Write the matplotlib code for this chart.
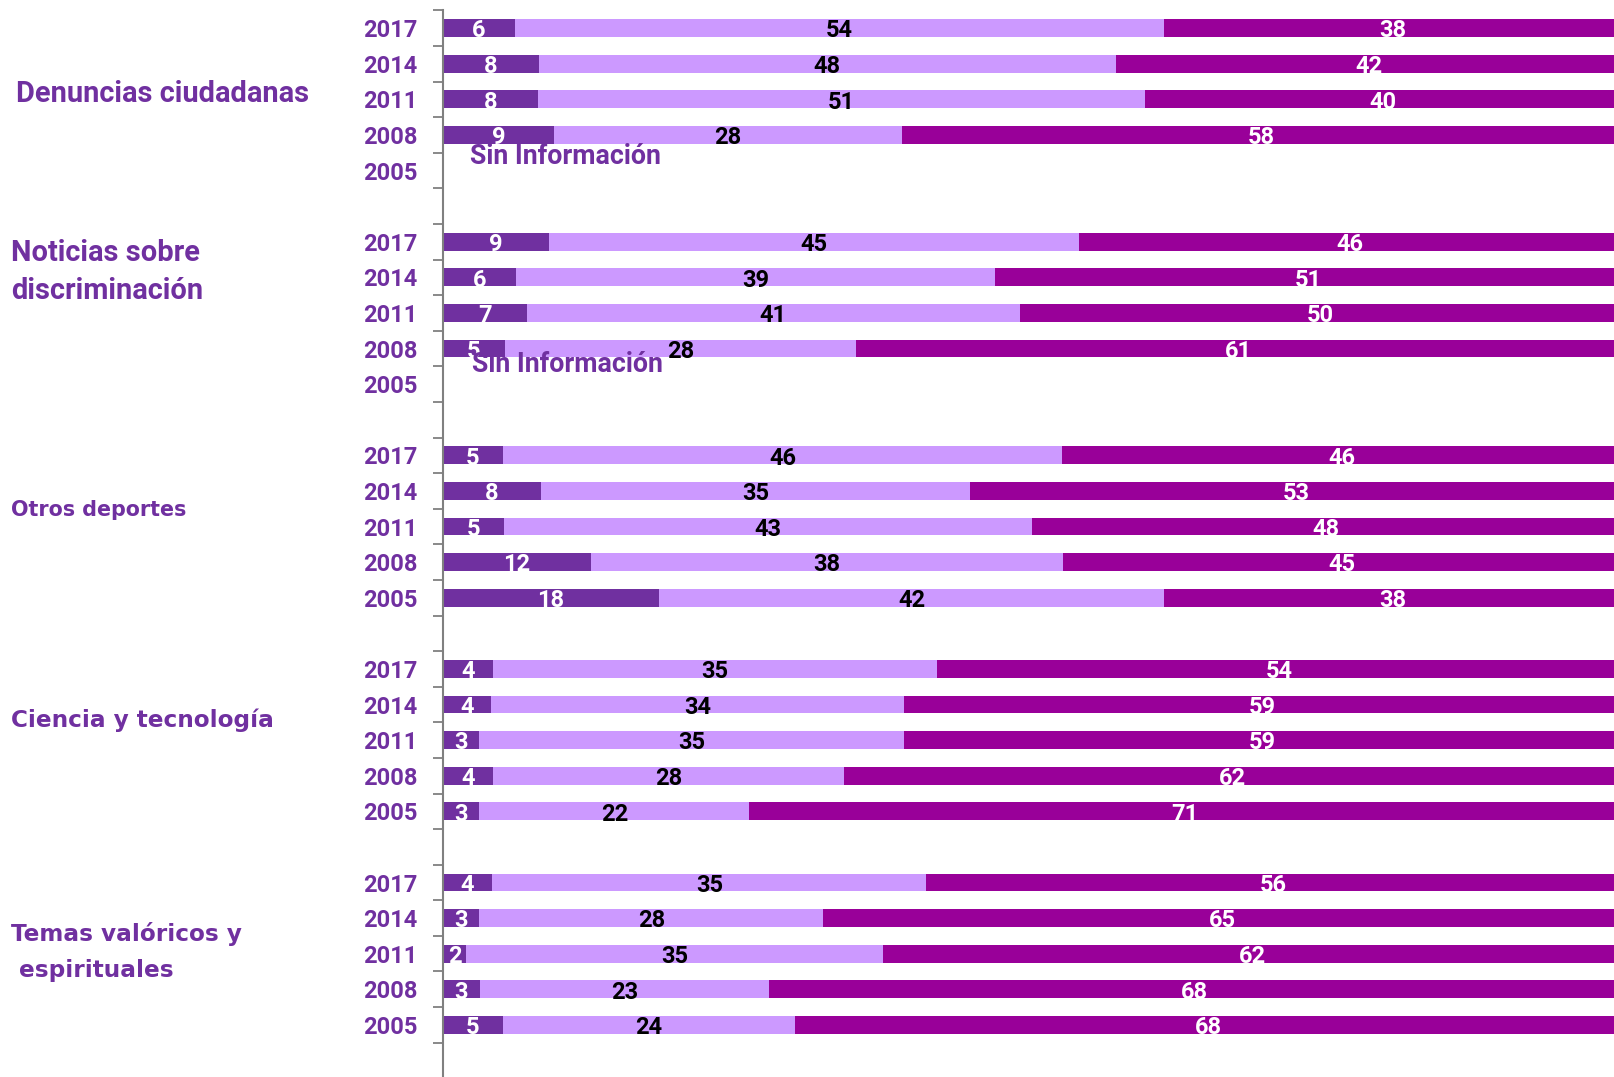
import numpy as np
import matplotlib.pyplot as plt

# categories
groups = ['Denuncias ciudadanas', 'Noticias sobre\ndiscriminación', 'Otros deportes',
          'Ciencia y tecnología', 'Temas valóricos y\n espirituales']
years = ['2017', '2014', '2011', '2008', '2005']

# values per group (2017, 2014, 2011, 2008, 2005); nan = sin información
dark = [6, 8, 8, 9, np.nan,
        9, 6, 7, 5, np.nan,
        5, 8, 5, 12, 18,
        4, 4, 3, 4, 3,
        4, 3, 2, 3, 5]
light = [54, 48, 51, 28, np.nan,
         45, 39, 41, 28, np.nan,
         46, 35, 43, 38, 42,
         35, 34, 35, 28, 22,
         35, 28, 35, 23, 24]
mag = [38, 42, 40, 58, np.nan,
       46, 51, 50, 61, np.nan,
       46, 53, 48, 45, 38,
       54, 59, 59, 62, 71,
       56, 65, 62, 68, 68]

c_dark = '#7030A0'
c_light = '#CC99FF'
c_mag = '#990099'
txt_purple = '#7030A0'
FONT = 'Roboto'

W, H = 1614, 1077
fig = plt.figure(figsize=(W / 100, H / 100), dpi=100)
ax = fig.add_axes([442.6 / W, -0.0012, 1 - 442.6 / W, 0.9916])

rows = []
for g in range(len(groups)):
    for j in range(len(years)):
        rows.append(g * 6 + j)
rows = np.array(rows)

# 100% stacked: each row scaled to its own total
d = np.array(dark, dtype=float)
l_ = np.array(light, dtype=float)
m = np.array(mag, dtype=float)
total = d + l_ + m

series = [(d, c_dark, 'white'),
          (l_, c_light, 'black'),
          (m, c_mag, 'white')]
left = np.zeros(len(rows))
for v, col, tcol in series:
    ok = ~np.isnan(v)
    pct = v / total * 100
    ax.barh(rows[ok], pct[ok], left=left[ok], height=0.5, color=col, linewidth=0)
    for y, lft, w, raw in zip(rows[ok], left[ok], pct[ok], v[ok]):
        ax.text(lft + w / 2, y + 0.08, f'{int(raw)}', ha='center', va='center',
                color=tcol, fontsize=17, fontweight='bold', family=FONT)
    left = left + np.nan_to_num(pct)

ax.set_xlim(0, 99.4)
ax.set_ylim(29.5, -0.5)

ax.set_yticks(rows)
ax.set_yticklabels(years * len(groups), color=txt_purple, fontsize=17,
                   fontweight='bold', family=FONT)
ax.tick_params(axis='y', which='major', length=0, pad=18)
ax.set_yticks(np.arange(-0.5, 30, 1), minor=True)
ax.tick_params(axis='y', which='minor', length=7, width=1.3, color='#808080')
ax.set_xticks([])
for s in ['top', 'right', 'bottom']:
    ax.spines[s].set_visible(False)
ax.spines['left'].set_color('#808080')
ax.spines['left'].set_linewidth(1.5)

# sin información notes
ax.text(2.3, 3.6, 'Sin Información', color=txt_purple, fontsize=19.3,
        fontweight='bold', family=FONT, va='center', ha='left')
ax.text(2.5, 9.45, 'Sin Información', color=txt_purple, fontsize=19.3,
        fontweight='bold', family=FONT, va='center', ha='left')

# group labels
lab_pos = [(16.5, 93.7), (11.3, 272), (11.3, 510.5), (11.3, 720.5), (11.3, 952)]
lab_font = [(FONT, 20.9, 1.2), (FONT, 20.9, 1.45), ('DejaVu Sans', 14.9, 1.35),
            ('DejaVu Sans', 16.7, 1.35), ('DejaVu Sans', 16.7, 1.75)]
for name, (px, py), (fam, fs, ls) in zip(groups, lab_pos, lab_font):
    fig.text(px / W, 1 - py / H, name, color=txt_purple, fontsize=fs,
             fontweight='bold', family=fam, ha='left', va='center',
             linespacing=ls)

fig.savefig('out.png', dpi=100)
